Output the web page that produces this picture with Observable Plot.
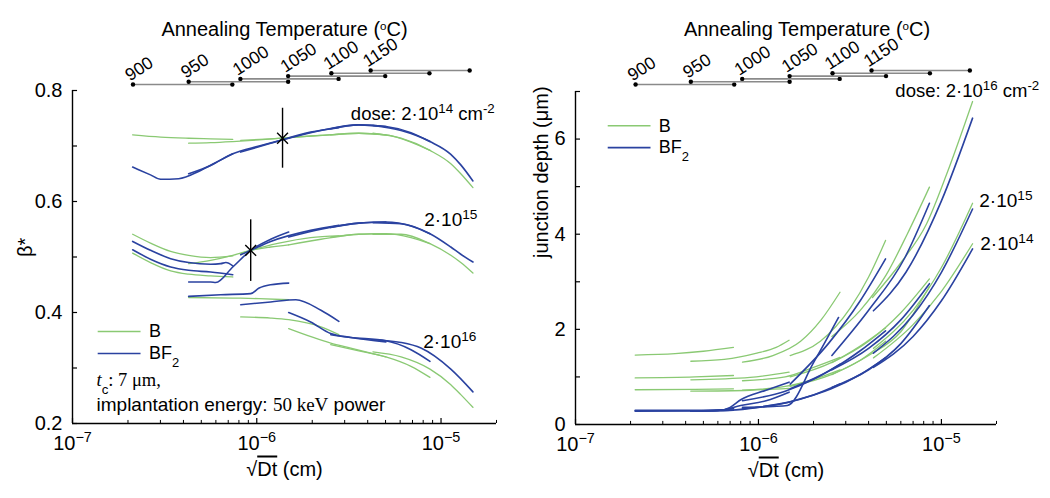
<!DOCTYPE html>
<html>
<head>
<meta charset="utf-8">
<script src="https://cdn.jsdelivr.net/npm/d3@7"></script>
<script src="https://cdn.jsdelivr.net/npm/@observablehq/plot@0.6"></script>
<style>
html,body{margin:0;padding:0;background:#fff;}
#wrap{display:flex;width:1050px;height:498px;overflow:hidden;}
#wrap svg{overflow:visible;}
</style>
</head>
<body>
<div id="wrap"></div>
<script>
// ---------------- data ----------------
const temps    = [900, 950, 1000, 1050, 1100, 1150];
const tempFrom = [2.13e-7, 4.27e-7, 8.15e-7, 1.48e-6, 2.54e-6, 4.15e-6];
const tempTo   = [7.37e-7, 1.48e-6, 2.78e-6, 4.98e-6, 8.65e-6, 1.43e-5];

const xMajor = [1e-7, 1e-6, 1e-5];
const xMajorLabels = ["10^{−7}", "10^{−6}", "10^{−5}"];
const xMinor = [2e-7,3e-7,4e-7,5e-7,6e-7,7e-7,8e-7,9e-7,2e-6,3e-6,4e-6,5e-6,6e-6,7e-6,8e-6,9e-6,2e-5];

const betaTicks = [0.2,0.3,0.4,0.5,0.6,0.7,0.8];
const betaLabels = [0.2,0.4,0.6,0.8];
const depthTicks = [0,1,2,3,4,5,6,7];
const depthLabels = [0,2,4,6];

// beta* : one list of [sqrt(Dt), beta*] per annealing temperature (900..1150)
const betaB14 = [
  [[2.12e-7,.720],[3.01e-7,.716],[4.27e-7,.714],[5.62e-7,.713],[7.41e-7,.712]],
  [[4.27e-7,.705],[5.62e-7,.706],[7.41e-7,.708],[1.03e-6,.711],[1.49e-6,.715]],
  [[8.18e-7,.710],[1.19e-6,.713],[1.96e-6,.718],[2.79e-6,.721]],
  [[1.49e-6,.715],[2.23e-6,.719],[3.58e-6,.723],[5.02e-6,.720]],
  [[2.52e-6,.720],[3.58e-6,.723],[5.02e-6,.720],[6.87e-6,.707],[8.71e-6,.692]],
  [[4.27e-6,.723],[6.07e-6,.714],[8.71e-6,.692],[1.13e-5,.668],[1.28e-5,.650],[1.49e-5,.625]]
];
const betaBF14 = [
  [[2.12e-7,.662],[2.65e-7,.648],[3.01e-7,.640],[3.77e-7,.641],[4.96e-7,.656],[6.37e-7,.675],[7.41e-7,.686]],
  [[4.27e-7,.650],[5.62e-7,.665],[7.41e-7,.686],[1.03e-6,.700],[1.49e-6,.714]],
  [[8.18e-7,.689],[1.19e-6,.705],[1.96e-6,.725],[2.79e-6,.733]],
  [[1.49e-6,.714],[2.23e-6,.728],[3.58e-6,.738],[5.02e-6,.735]],
  [[2.52e-6,.731],[3.58e-6,.738],[5.02e-6,.735],[6.87e-6,.724],[8.71e-6,.708]],
  [[4.27e-6,.737],[6.07e-6,.728],[8.71e-6,.708],[1.13e-5,.685],[1.28e-5,.666],[1.49e-5,.637]]
];
const betaB15 = [
  [[2.12e-7,.541],[2.65e-7,.525],[3.41e-7,.510],[4.27e-7,.503],[5.62e-7,.499],[7.41e-7,.502]],
  [[4.27e-7,.488],[5.62e-7,.494],[7.41e-7,.503],[9.27e-7,.512],[1.19e-6,.518],[1.49e-6,.522]],
  [[8.18e-7,.506],[9.27e-7,.512],[1.32e-6,.525],[1.96e-6,.535],[2.79e-6,.538]],
  [[1.49e-6,.522],[2.23e-6,.532],[3.58e-6,.541],[5.02e-6,.542]],
  [[2.52e-6,.536],[3.58e-6,.541],[5.02e-6,.542],[6.87e-6,.535],[8.71e-6,.524]],
  [[4.27e-6,.541],[6.07e-6,.541],[8.71e-6,.524],[1.13e-5,.503],[1.28e-5,.490],[1.49e-5,.471]]
];
const betaBF15 = [
  [[2.12e-7,.528],[2.65e-7,.512],[3.41e-7,.497],[4.27e-7,.490],[5.62e-7,.487],[6.37e-7,.488],[6.8e-7,.490],[7.41e-7,.484]],
  [[4.27e-7,.455],[5.62e-7,.455],[5.99e-7,.454],[7.41e-7,.482],[9.27e-7,.512],[1.19e-6,.532],[1.49e-6,.545]],
  [[8.18e-7,.504],[9.27e-7,.512],[1.19e-6,.528],[1.96e-6,.548],[2.79e-6,.557]],
  [[1.49e-6,.536],[2.23e-6,.550],[3.58e-6,.561],[5.02e-6,.563]],
  [[2.52e-6,.553],[3.58e-6,.561],[5.02e-6,.563],[6.87e-6,.556],[8.71e-6,.542]],
  [[4.27e-6,.562],[6.07e-6,.560],[8.71e-6,.542],[1.13e-5,.518],[1.28e-5,.505],[1.49e-5,.491]]
];
const betaB16 = [
  [[2.12e-7,.507],[2.65e-7,.490],[3.41e-7,.475],[4.27e-7,.469],[5.62e-7,.466],[7.41e-7,.464]],
  [[4.27e-7,.427],[7.41e-7,.426],[1.03e-6,.425],[1.49e-6,.423]],
  [[8.18e-7,.392],[1.19e-6,.390],[1.49e-6,.387],[2.23e-6,.374],[2.79e-6,.360]],
  [[1.49e-6,.371],[2.52e-6,.345],[3.24e-6,.336],[5.02e-6,.320]],
  [[2.52e-6,.342],[3.58e-6,.331],[5.02e-6,.320],[6.87e-6,.303],[8.71e-6,.283]],
  [[4.27e-6,.329],[6.07e-6,.320],[8.71e-6,.298],[1.13e-5,.270],[1.28e-5,.252],[1.49e-5,.229]]
];
const betaBF16 = [
  [[2.12e-7,.513],[2.65e-7,.496],[3.41e-7,.482],[4.27e-7,.476],[5.62e-7,.473],[7.41e-7,.468]],
  [[4.27e-7,.429],[6.37e-7,.432],[9.27e-7,.434],[1.03e-6,.444],[1.19e-6,.450],[1.49e-6,.453]],
  [[8.18e-7,.414],[1.19e-6,.419],[1.63e-6,.423],[2.23e-6,.404],[2.79e-6,.384]],
  [[1.49e-6,.400],[1.96e-6,.383],[2.52e-6,.362],[3.24e-6,.355],[5.02e-6,.347]],
  [[2.52e-6,.360],[3.24e-6,.355],[5.02e-6,.349],[6.87e-6,.333],[8.71e-6,.312]],
  [[4.27e-6,.351],[6.07e-6,.346],[7.78e-6,.336],[1.13e-5,.298],[1.49e-5,.257]]
];

// junction depth (um)
const depthB16 = [
  [[2.12e-7,1.46],[3.5e-7,1.49],[5e-7,1.54],[7.3e-7,1.62]],
  [[4.27e-7,1.33],[6.5e-7,1.37],[9.8e-7,1.50],[1.25e-6,1.62],[1.47e-6,1.77]],
  [[8.18e-7,1.31],[1.2e-6,1.45],[1.7e-6,1.75],[2.2e-6,2.2],[2.79e-6,2.78]],
  [[1.49e-6,1.45],[2.18e-6,1.75],[3.18e-6,2.45],[4.0e-6,3.1],[4.95e-6,3.87]],
  [[2.52e-6,1.85],[3.6e-6,2.4],[5.0e-6,3.15],[6.5e-6,4.0],[8.6e-6,4.99]],
  [[4.2e-6,2.67],[6.0e-6,3.4],[8.3e-6,4.22],[1.07e-5,5.27],[1.48e-5,6.79]]
];
const depthBF16 = [
  [[2.12e-7,0.30],[5e-7,0.30],[6.5e-7,0.31],[7.3e-7,0.33]],
  [[4.27e-7,0.29],[6.2e-7,0.30],[7.0e-7,0.36],[8.0e-7,0.52],[1.1e-6,0.72],[1.47e-6,0.89]],
  [[8.18e-7,0.36],[1.2e-6,0.38],[1.44e-6,0.40],[2.0e-6,1.3],[2.74e-6,2.25]],
  [[1.49e-6,0.85],[2.41e-6,1.70],[3.6e-6,2.6],[4.95e-6,3.48]],
  [[2.52e-6,1.45],[4.0e-6,2.4],[6.3e-6,3.5],[8.6e-6,4.65]],
  [[4.25e-6,2.39],[6.4e-6,3.2],[1.0e-5,4.7],[1.48e-5,6.44]]
];
const depthB15 = [
  [[2.12e-7,0.98],[4.5e-7,1.0],[7.3e-7,1.03]],
  [[4.27e-7,0.94],[9e-7,0.99],[1.47e-6,1.10]],
  [[8.18e-7,0.92],[1.4e-6,1.0],[2.0e-6,1.2],[2.79e-6,1.41]],
  [[1.49e-6,1.0],[2.5e-6,1.3],[3.6e-6,1.65],[4.95e-6,2.03]],
  [[2.52e-6,1.3],[4e-6,1.75],[6e-6,2.35],[8.6e-6,3.06]],
  [[4.25e-6,1.6],[7e-6,2.4],[1e-5,3.3],[1.48e-5,4.65]]
];
const depthBF15 = [
  [[2.12e-7,0.29],[5.7e-7,0.29],[7.3e-7,0.34]],
  [[4.27e-7,0.28],[6.2e-7,0.30],[8e-7,0.40],[1.1e-6,0.50],[1.47e-6,0.68]],
  [[8.18e-7,0.50],[1.4e-6,0.7],[2.0e-6,0.95],[2.79e-6,1.27]],
  [[1.49e-6,0.75],[2.5e-6,1.15],[3.6e-6,1.55],[4.95e-6,1.97]],
  [[2.52e-6,1.15],[4e-6,1.6],[6e-6,2.2],[8.6e-6,2.96]],
  [[4.25e-6,1.5],[7e-6,2.3],[1e-5,3.2],[1.48e-5,4.53]]
];
const depthB14 = [
  [[2.12e-7,0.73],[4.5e-7,0.74],[7.3e-7,0.75]],
  [[4.27e-7,0.70],[9e-7,0.72],[1.47e-6,0.76]],
  [[8.18e-7,0.72],[1.4e-6,0.80],[2.0e-6,0.95],[2.79e-6,1.15]],
  [[1.49e-6,0.80],[2.5e-6,1.05],[3.6e-6,1.35],[4.95e-6,1.75]],
  [[2.52e-6,1.05],[4e-6,1.45],[6e-6,1.95],[8.6e-6,2.9]],
  [[4.25e-6,1.4],[7e-6,2.1],[1e-5,2.8],[1.48e-5,3.80]]
];
const depthBF14 = [
  [[2.12e-7,0.28],[6.2e-7,0.29],[7.3e-7,0.30]],
  [[4.27e-7,0.28],[7e-7,0.30],[1e-6,0.36],[1.47e-6,0.47]],
  [[8.18e-7,0.33],[1.4e-6,0.45],[2e-6,0.62],[2.79e-6,0.85]],
  [[1.49e-6,0.48],[2.5e-6,0.75],[3.6e-6,1.05],[4.95e-6,1.4]],
  [[2.52e-6,0.78],[4e-6,1.15],[6e-6,1.7],[8.6e-6,2.5]],
  [[4.25e-6,1.2],[7e-6,1.85],[1e-5,2.6],[1.48e-5,3.69]]
];

// crossing markers (left panel)
const crossX  = [1.38e-6, 9.27e-7];
const crossY  = [0.714, 0.512];
const crossLo = [0.660, 0.456];
const crossHi = [0.768, 0.567];

// ---------------- helpers ----------------
const GREEN = "#8ac973", BLUE = "#2a42a0";
const FONT = "'Liberation Sans', Arial, Helvetica, sans-serif";
const FS = 20;

function rowsOf(list, tag) {
  const out = [];
  list.forEach((segs, dose) => segs.forEach((seg, t) => seg.forEach(([x, y]) =>
    out.push({x, y, key: tag + dose + "-" + temps[t]}))));
  return out;
}

function rich(svg) {
  d3.select(svg).selectAll("text").each(function () {
    const el = this, s = el.textContent;
    if (!/[\^`_~*#]\{/.test(s)) return;
    el.textContent = "";
    const re = /([\^`_~*#])\{([^}]*)\}/g;
    let last = 0, m;
    const add = (txt, kind) => {
      if (!txt) return;
      const t = document.createElementNS("http://www.w3.org/2000/svg", "tspan");
      t.textContent = txt;
      if (kind === "^") { t.setAttribute("baseline-shift", "super"); t.style.fontSize = "0.72em"; }
      if (kind === "`") { t.setAttribute("baseline-shift", "super"); t.style.fontSize = "0.58em"; }
      if (kind === "_") { t.setAttribute("baseline-shift", "sub"); t.style.fontSize = "0.72em"; }
      if (kind === "~") { t.style.textDecoration = "overline"; }
      if (kind === "*") { t.style.fontFamily = "'Liberation Serif', 'Times New Roman', serif"; t.style.fontStyle = "italic"; }
      if (kind === "#") { t.style.fontFamily = "'Liberation Serif', 'Times New Roman', serif"; }
      el.appendChild(t);
    };
    while ((m = re.exec(s))) { add(s.slice(last, m.index), null); add(m[2], m[1]); last = re.lastIndex; }
    add(s.slice(last), null);
  });
}

function panel(cfg) {
  const [y0, y1] = cfg.yDomain;
  const marks = [];
  // data lines
  marks.push(Plot.line(cfg.green, {x: "x", y: "y", z: "key", stroke: GREEN, strokeWidth: 1.3, curve: "monotone-x"}));
  marks.push(Plot.line(cfg.blue, {x: "x", y: "y", z: "key", stroke: BLUE, strokeWidth: 1.6, curve: "monotone-x"}));
  // axes
  marks.push(Plot.ruleX([1e-7], {stroke: "black", strokeWidth: 1.4}));
  marks.push(Plot.ruleY([y0], {stroke: "black", strokeWidth: 1.4}));
  marks.push(Plot.ruleY(cfg.yTicks, {x1: 1e-7, x2: 1.065e-7, stroke: "black", strokeWidth: 1.2}));
  marks.push(Plot.ruleX(xMajor, {y1: y0, y2: y0 + cfg.tickMajor, stroke: "black", strokeWidth: 1.2}));
  marks.push(Plot.ruleX(xMinor, {y1: y0, y2: y0 + cfg.tickMinor, stroke: "black", strokeWidth: 1}));
  marks.push(Plot.text(cfg.yLabels, {x: 1e-7, y: d => d, text: d => String(d), dx: -10, textAnchor: "end", fontSize: FS}));
  marks.push(Plot.text(xMajor, {x: d => d, y: y0, text: (d, i) => xMajorLabels[i], dy: 20, fontSize: FS}));
  marks.push(Plot.text(["√~{Dt} (cm)"], {frameAnchor: "bottom", dy: 52, fontSize: FS}));
  marks.push(Plot.text([cfg.yTitle], {frameAnchor: "left", dx: cfg.yTitleDx, rotate: -90, fontSize: FS}));
  // temperature ruler
  marks.push(Plot.text(["Annealing Temperature (`{o}C)"], {frameAnchor: "top", dy: cfg.titleDy, dx: cfg.titleDx, fontSize: FS}));
  temps.forEach((t, i) => {
    const dy = -(cfg.rulerBase + 2.8 * i);
    marks.push(Plot.link([i], {x1: j => tempFrom[j], x2: j => tempTo[j], y1: y1, y2: y1, dy, stroke: "#8a8a8a", strokeWidth: 1.6}));
    marks.push(Plot.dot([tempFrom[i], tempTo[i]], {x: d => d, y: y1, dy, r: 2.2, fill: "black", stroke: null}));
    marks.push(Plot.text([t], {x: tempFrom[i], y: y1, dy: dy - 3, dx: -3, rotate: -33, textAnchor: "start", lineAnchor: "bottom", text: d => String(d), fontSize: 17.5}));
  });
  // legend
  const L = cfg.legend;
  marks.push(Plot.link([0], {x1: L.x1, x2: L.x2, y1: L.yB, y2: L.yB, stroke: GREEN, strokeWidth: 1.3}));
  marks.push(Plot.link([0], {x1: L.x1, x2: L.x2, y1: L.yBF, y2: L.yBF, stroke: BLUE, strokeWidth: 1.6}));
  marks.push(Plot.text(["B"], {x: L.xt, y: L.yB, textAnchor: "start", fontSize: 18}));
  marks.push(Plot.text(["BF_{2}"], {x: L.xt, y: L.yBF, textAnchor: "start", fontSize: 18}));
  // annotations
  cfg.notes.forEach(n => marks.push(Plot.text([n.text], {x: n.x, y: n.y, textAnchor: "start", lineAnchor: "middle", fontSize: n.fs || FS})));
  if (cfg.extra) marks.push(...cfg.extra);

  const svg = Plot.plot({
    width: 525, height: 498,
    marginLeft: cfg.ml, marginRight: cfg.mr, marginTop: cfg.mt, marginBottom: cfg.mb,
    x: {type: "log", domain: [1e-7, 2e-5], axis: null},
    y: {domain: cfg.yDomain, axis: null},
    style: {fontFamily: FONT, fontSize: FS + "px", color: "black", background: "white", overflow: "visible"},
    marks
  });
  rich(svg);
  return svg;
}

const wrap = document.getElementById("wrap");

wrap.appendChild(panel({
  yDomain: [0.2, 0.8], yTicks: betaTicks, yLabels: betaLabels,
  ml: 72, mr: 29, mt: 90, mb: 75,
  tickMajor: 0.009, tickMinor: 0.0055,
  yTitle: "β*", yTitleDx: -47,
  titleDy: -69, titleDx: 0, rulerBase: 6,
  green: rowsOf([betaB14, betaB15, betaB16], "B"),
  blue: rowsOf([betaBF14, betaBF15, betaBF16], "BF"),
  legend: {x1: 1.37e-7, x2: 2.34e-7, xt: 2.6e-7, yB: 0.3658, yBF: 0.3261},
  notes: [
    {text: "dose: 2·10^{14} cm^{-2}", x: 3.24e-6, y: 0.758, fs: 18.5},
    {text: "2·10^{15}", x: 8.1e-6, y: 0.566, fs: 19},
    {text: "2·10^{16}", x: 8.0e-6, y: 0.347, fs: 19},
    {text: "*{t}_{c}#{: 7 μm,}", x: 1.35e-7, y: 0.2785, fs: 18.5},
    {text: "implantation energy: #{50 keV} power", x: 1.35e-7, y: 0.2330, fs: 19}
  ],
  extra: [
    Plot.ruleX([0, 1], {x: i => crossX[i], y1: i => crossLo[i], y2: i => crossHi[i], stroke: "black", strokeWidth: 1.4}),
    Plot.dot([0, 1], {x: i => crossX[i], y: i => crossY[i], symbol: "times", r: 5, stroke: "black", strokeWidth: 1.4})
  ]
}));

wrap.appendChild(panel({
  yDomain: [0, 7], yTicks: depthTicks, yLabels: depthLabels,
  ml: 50, mr: 54, mt: 91, mb: 74,
  tickMajor: 0.105, tickMinor: 0.065,
  yTitle: "junction depth (μm)", yTitleDx: -34,
  titleDy: -70, titleDx: 21, rulerBase: 7,
  green: rowsOf([depthB14, depthB15, depthB16], "B"),
  blue: rowsOf([depthBF14, depthBF15, depthBF16], "BF"),
  legend: {x1: 1.5e-7, x2: 2.57e-7, xt: 2.85e-7, yB: 6.28, yBF: 5.82},
  notes: [
    {text: "dose: 2·10^{16} cm^{-2}", x: 5.6e-6, y: 7.0, fs: 18.5},
    {text: "2·10^{15}", x: 1.61e-5, y: 4.7, fs: 19},
    {text: "2·10^{14}", x: 1.63e-5, y: 3.8, fs: 19}
  ]
}));
</script>
</body>
</html>
